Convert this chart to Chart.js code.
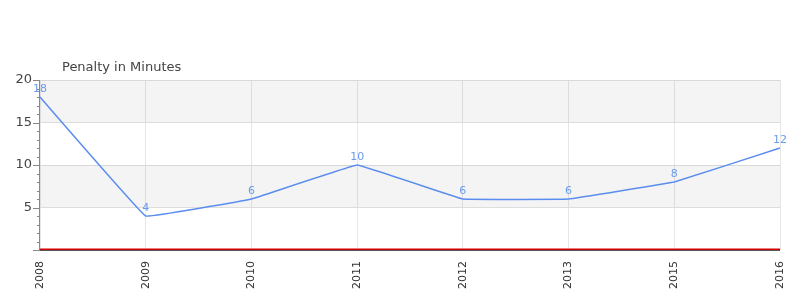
<!DOCTYPE html>
<html>
<head>
<meta charset="utf-8">
<script src="https://cdn.jsdelivr.net/npm/chart.js@4/dist/chart.umd.min.js"></script>
<style>
  html, body { margin: 0; padding: 0; background: #fff; }
  #wrap { width: 800px; height: 300px; }
</style>
</head>
<body>
<div id="wrap"><canvas id="c" width="800" height="300"></canvas></div>
<script>
const years = ["2008", "2009", "2010", "2011", "2012", "2013", "2015", "2016"];
const penalty = [18, 4, 6, 10, 6, 6, 8, 12];
const yMin = 0;
const yMax = 20;
const title = "Penalty in Minutes";

const FONT = "'DejaVu Sans', sans-serif";
const LINE = "#5b8def";

// alternating bands, value labels, axis ticks, baseline, title
const decor = {
  id: "decor",
  beforeDatasetsDraw(chart) {
    const { ctx, chartArea: a, scales: { y } } = chart;
    ctx.save();
    for (let v = yMin; v < yMax; v += 5) {
      if ((v / 5) % 2 === 1) {
        const top = y.getPixelForValue(v + 5);
        const bot = y.getPixelForValue(v);
        ctx.fillStyle = "rgba(0,0,0,0.045)";
        ctx.fillRect(a.left, top, a.right - a.left, bot - top);
      }
    }
    ctx.restore();
  },
  afterDatasetsDraw(chart) {
    const { ctx, chartArea: a, scales: { y } } = chart;
    ctx.save();
    // value labels (under the axis, like the original)
    const meta = chart.getDatasetMeta(0);
    ctx.fillStyle = "#6a9bec";
    ctx.font = "11px " + FONT;
    ctx.textAlign = "center";
    ctx.textBaseline = "alphabetic";
    meta.data.forEach((pt, i) => {
      ctx.fillText(String(penalty[i]), pt.x, pt.y - 5);
    });
    // y axis line + ticks
    ctx.strokeStyle = "#888";
    ctx.lineWidth = 1;
    ctx.beginPath();
    ctx.moveTo(a.left - 0.5, a.top);
    ctx.lineTo(a.left - 0.5, a.bottom);
    for (let v = yMin; v <= yMax; v++) {
      const py = Math.round(y.getPixelForValue(v)) + 0.5;
      const len = v % 5 === 0 ? 7 : 3;
      ctx.moveTo(a.left - len, py);
      ctx.lineTo(a.left, py);
    }
    ctx.stroke();
    // bottom axis + red zero line
    const zy = y.getPixelForValue(0);
    ctx.strokeStyle = "#555";
    ctx.beginPath();
    ctx.moveTo(a.left, zy + 0.5);
    ctx.lineTo(a.right, zy + 0.5);
    ctx.stroke();
    ctx.strokeStyle = "#d40000";
    ctx.lineWidth = 1.5;
    ctx.beginPath();
    ctx.moveTo(a.left, zy - 0.75);
    ctx.lineTo(a.right, zy - 0.75);
    ctx.stroke();
    // title
    ctx.fillStyle = "#444";
    ctx.font = "13px " + FONT;
    ctx.textAlign = "left";
    ctx.fillText(title, a.left + 22, a.top - 9);
    ctx.restore();
  },
};

new Chart(document.getElementById("c"), {
  type: "line",
  data: {
    labels: years,
    datasets: [{
      data: penalty,
      borderColor: LINE,
      borderWidth: 1.5,
      backgroundColor: "transparent",
      pointRadius: 0,
      tension: 0.04,
      fill: false,
    }],
  },
  options: {
    responsive: false,
    animation: false,
    layout: { padding: { top: 80, right: 20, left: 0, bottom: 0 } },
    plugins: { legend: { display: false }, tooltip: { enabled: false }, title: { display: false } },
    scales: {
      x: {
        offset: false,
        afterFit(s) {
          s.height = 50;
          s.paddingLeft = 0;
          s.paddingRight = 0;
        },
        grid: { color: "#e6e6e6", drawTicks: false },
        border: { display: false },
        ticks: {
          color: "#333",
          font: { family: FONT, size: 11 },
          minRotation: 90,
          maxRotation: 90,
          padding: 11,
          autoSkip: false,
        },
      },
      y: {
        min: yMin,
        max: yMax,
        afterFit(s) {
          s.width = 40;
          s.paddingTop = 0;
          s.paddingBottom = 0;
        },
        grid: {
          drawTicks: false,
          color: (c) => (c.tick && c.tick.value % 5 === 0 && c.tick.value !== 0 ? "#e2e2e2" : "transparent"),
        },
        border: { display: false },
        ticks: {
          stepSize: 1,
          autoSkip: false,
          color: "#444",
          font: { family: FONT, size: 13 },
          padding: 8,
          callback: (v) => (v % 5 === 0 && v !== 0 ? String(v) : ""),
        },
      },
    },
  },
  plugins: [decor],
});
</script>
</body>
</html>
